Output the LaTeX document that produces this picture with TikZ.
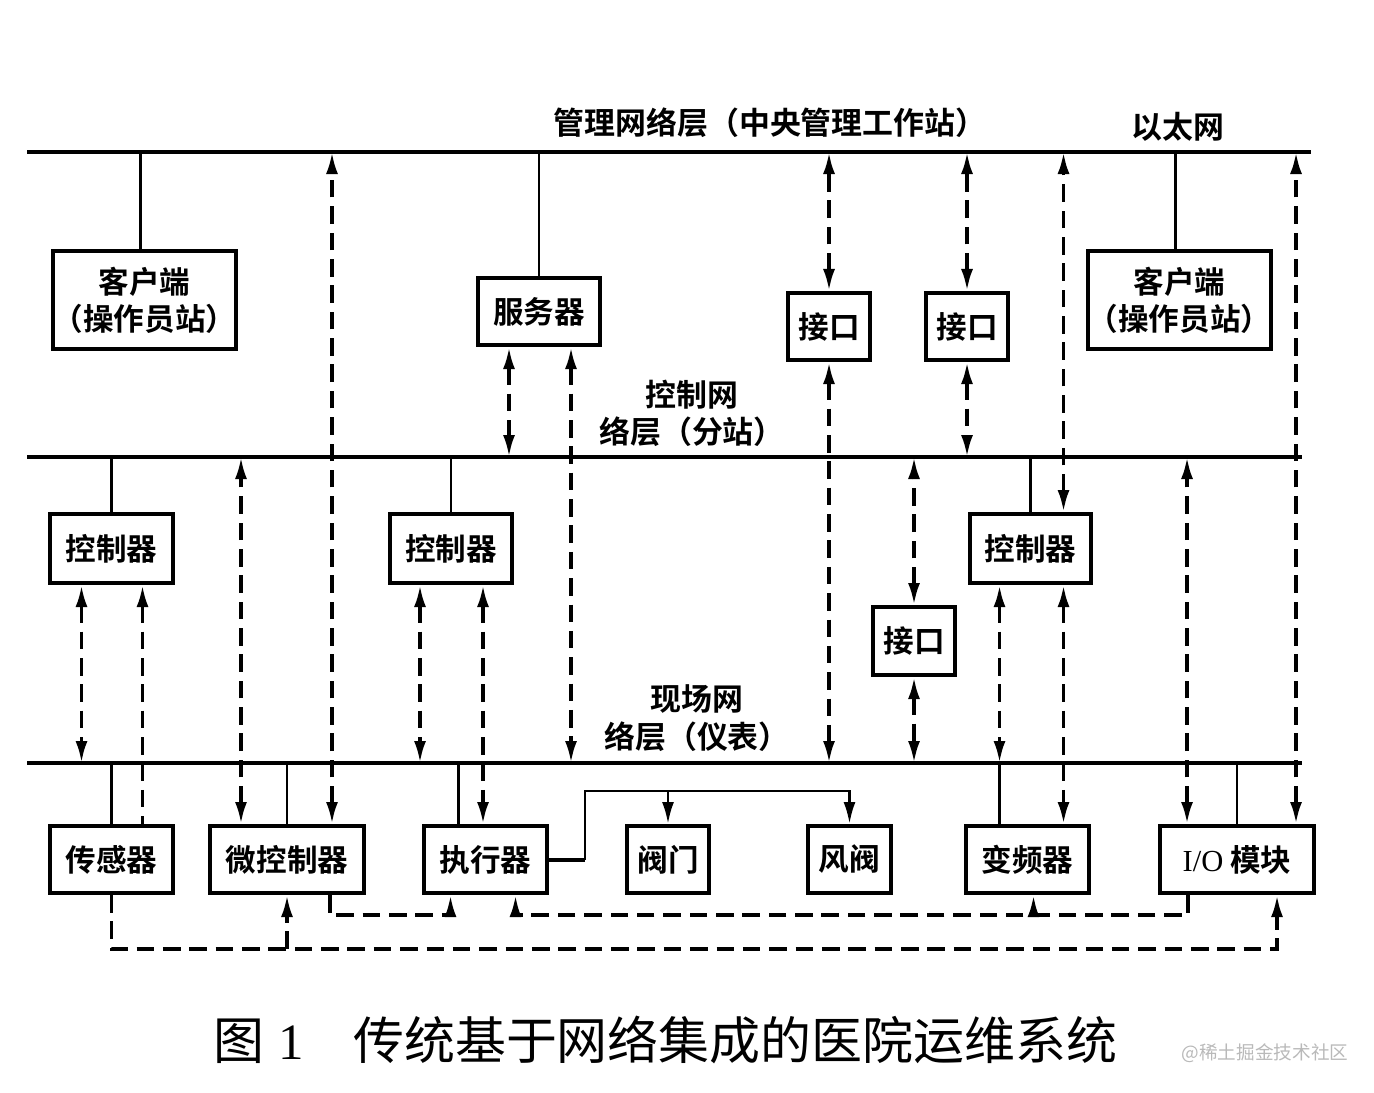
\documentclass[tikz,border=0pt]{standalone}
\usepackage{fontspec}
\setmainfont{Liberation Serif}
\newfontfamily\cjk{Noto Sans CJK SC}[BoldFont={Noto Sans CJK SC Bold}]
\usepackage{tikz}
\usetikzlibrary{arrows.meta,calc}

\begin{document}
\begin{tikzpicture}[x=0.1mm,y=-0.1mm,>={Latex[length=2.2mm,width=1.2mm]},
	bus/.style={line width=1.4pt},
	box/.style={draw,line width=1.15pt,inner sep=0pt,align=center,minimum height=6.7mm,
		font=\cjk\bfseries\fontsize{8.7}{10.5}\selectfont},
	lbl/.style={align=center,inner sep=0pt,font=\cjk\bfseries\fontsize{8.8}{10.6}\selectfont},
	wire/.style={line width=0.8pt},
	dline/.style={line width=1pt,dash pattern=on 5pt off 2.5pt}]
	\useasboundingbox (0,0) rectangle (1374,1092);
	
	% three network buses
	\coordinate (mnetL) at (27,152);  \coordinate (mnetR) at (1311,152);
	\coordinate (cnetL) at (27,457);  \coordinate (cnetR) at (1302,457);
	\coordinate (fnetL) at (27,763);  \coordinate (fnetR) at (1302,763);
	\draw[bus] (mnetL) -- (mnetR);
	\draw[bus] (cnetL) -- (cnetR);
	\draw[bus] (fnetL) -- (fnetR);
	
	\node[lbl] (mlbl) at (770,123) {管理网络层（中央管理工作站）};
	\node[lbl] (elbl) at (1178,127) {以太网};
	\node[lbl] (clbl) at (692,413) {控制网\\络层（分站）};
	\node[lbl] (flbl) at (697,718) {现场网\\络层（仪表）};
	
	% management layer
	\node[box,minimum width=18.1mm,minimum height=9.8mm] (cliL) at (144.5,300) {客户端\\（操作员站）};
	\node[box,minimum width=12.2mm] (srv) at (539,311.5) {服务器};
	\node[box,minimum width=8.2mm] (ifA) at (829,326.5) {接口};
	\node[box,minimum width=8.2mm] (ifB) at (967,326.5) {接口};
	\node[box,minimum width=18.1mm,minimum height=9.8mm] (cliR) at (1179.5,300) {客户端\\（操作员站）};
	
	% control layer
	\node[box,minimum width=12.3mm,minimum height=6.9mm] (ctlA) at (111.5,548.5) {控制器};
	\node[box,minimum width=12.2mm,minimum height=6.9mm] (ctlB) at (451,548.5) {控制器};
	\node[box,minimum width=12.1mm,minimum height=6.9mm] (ctlC) at (1030.5,548.5) {控制器};
	\node[box,minimum width=8.2mm,minimum height=6.8mm] (ifC) at (914,641) {接口};
	
	% field layer
	\node[box,minimum width=12.3mm] (sens) at (111.5,859.5) {传感器};
	\node[box,minimum width=15.4mm] (mcu) at (287,859.5) {微控制器};
	\node[box,minimum width=12.3mm] (act) at (485.5,859.5) {执行器};
	\node[box,minimum width=8.2mm] (valve) at (668,859.5) {阀门};
	\node[box,minimum width=8.3mm] (damp) at (849.5,859.5) {风阀};
	\node[box,minimum width=12.3mm] (vfd) at (1027.5,859.5) {变频器};
	\node[box,minimum width=15.4mm] (io) at (1237,859.5) {{\rmfamily\mdseries I/O}\ 模块};
	
	% solid taps onto the buses
	\draw[wire] ([xshift=-0.4mm]cliL.north) -- ([xshift=-0.4mm]cliL.north |- mnetL);
	\draw[wire] (srv.north) -- (srv.north |- mnetL);
	\draw[wire] ([xshift=-0.4mm]cliR.north) -- ([xshift=-0.4mm]cliR.north |- mnetL);
	\draw[wire] (ctlA.north) -- (ctlA.north |- cnetL);
	\draw[wire] (ctlB.north) -- (ctlB.north |- cnetL);
	\draw[wire] (ctlC.north) -- (ctlC.north |- cnetL);
	\draw[wire] (sens.north) -- (sens.north |- fnetL);
	\draw[wire] (mcu.north) -- (mcu.north |- fnetL);
	\draw[wire] ([xshift=-2.7mm]act.north) -- ([xshift=-2.7mm]act.north |- fnetL);
	\draw[wire] (io.north) -- (io.north |- fnetL);
	
	% dashed links
	\draw[dline,<->] ([xshift=4.5mm]mcu.north) -- ([xshift=4.5mm]mcu.north |- mnetL);
	\draw[dline,<->] ([xshift=-3mm]srv.south) -- ([xshift=-3mm]srv.south |- cnetL);
	\draw[dline,<->] ([xshift=3.2mm]srv.south) -- ([xshift=3.2mm]srv.south |- fnetL);
	\draw[dline,<->] (ifA.north) -- (ifA.north |- mnetL);
	\draw[dline,<->] (ifA.south) -- (ifA.south |- fnetL);
	\draw[dline,<->] (ifB.north) -- (ifB.north |- mnetL);
	\draw[dline,<->] (ifB.south) -- (ifB.south |- cnetL);
	\draw[dline,<->] ([xshift=3.3mm]ctlC.north) -- ([xshift=3.3mm]ctlC.north |- mnetL);
	\draw[dline,<->] ([xshift=5.9mm]io.north) -- ([xshift=5.9mm]io.north |- mnetL);
	
	\draw[dline,<->] ([xshift=-3mm]ctlA.south) -- ([xshift=-3mm]ctlA.south |- fnetL);
	\draw[dline,<-] ([xshift=3.1mm]ctlA.south) -- ([xshift=3.1mm]ctlA.south |- sens.north);
	\draw[dline,<->] ([xshift=-4.6mm]mcu.north) -- ([xshift=-4.6mm]mcu.north |- cnetL);
	\draw[dline,<->] ([xshift=-3.1mm]ctlB.south) -- ([xshift=-3.1mm]ctlB.south |- fnetL);
	\draw[dline,<->] ([xshift=3.2mm]ctlB.south) -- ([xshift=3.2mm]ctlB.south |- act.north);
	\draw[dline,<->] (ifC.north) -- (ifC.north |- cnetL);
	\draw[dline,<->] (ifC.south) -- (ifC.south |- fnetL);
	\draw[dline,<->] ([xshift=-3.1mm]ctlC.south) -- ([xshift=-3.1mm]ctlC.south |- fnetL);
	\draw[wire] ([xshift=-3.1mm]ctlC.south |- fnetL) -- ([xshift=-3.1mm]ctlC.south |- vfd.north);
	\draw[dline,<->] ([xshift=3.3mm]ctlC.south) -- ([xshift=3.3mm]ctlC.south |- vfd.north);
	\draw[dline,<->] ([xshift=-5mm]io.north) -- ([xshift=-5mm]io.north |- cnetL);
	
	% actuator drives the valves
	\coordinate (split) at (585,791);
	\draw[line width=1.15pt] (act.east) -- (act.east -| split);
	\draw[wire,->] (act.east -| split) -- (split) -| (damp.north);
	\draw[wire,->] (valve.north |- split) -- (valve.north);
	
	% feedback loops under the field devices
	\coordinate (ret1) at (0,915);
	\coordinate (ret2) at (0,949);
	\draw[dline,->] ([xshift=4.3mm]mcu.south) -- ([xshift=4.3mm]mcu.south |- ret1) -| ([xshift=-3.5mm]act.south);
	\draw[dline,->] ([xshift=-4.9mm]io.south) -- ([xshift=-4.9mm]io.south |- ret1) -| ([xshift=3mm]act.south);
	\draw[dline,->] ([xshift=0.6mm]vfd.south |- ret1) -- ([xshift=0.6mm]vfd.south);
	\draw[dline,->] (sens.south) -- (sens.south |- ret2) -| ([xshift=4mm]io.south);
	\draw[dline,->] (mcu.south |- ret2) -- (mcu.south);
	
	\node[anchor=west,inner sep=0pt,font=\cjk\fontsize{14.5}{17}\selectfont] (cap) at (213,1040)
		{图\hspace{1.4mm}{\rmfamily 1}\hspace{4.9mm}传统基于网络集成的医院运维系统};
	\node[inner sep=0pt,text=gray!55,font=\cjk\fontsize{5.3}{6}\selectfont] (wm) at (1265,1053) {@稀土掘金技术社区};
\end{tikzpicture}
\end{document}
